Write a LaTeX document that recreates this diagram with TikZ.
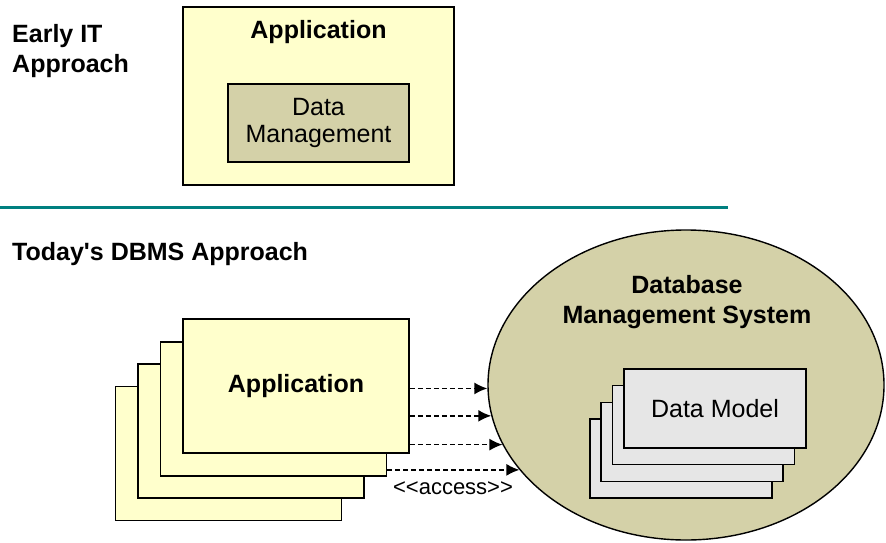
\documentclass[tikz,border=0pt]{standalone}
\usepackage{fontspec}
\setmainfont{Liberation Sans}
\newfontfamily\arialfont{Liberation Sans}
\usetikzlibrary{shapes.geometric,arrows.meta}
\definecolor{appyellow}{RGB}{255,255,204}
\definecolor{dmolive}{RGB}{212,209,168}
\definecolor{modelgray}{RGB}{230,230,230}
\definecolor{divteal}{RGB}{0,128,128}

\begin{document}
\begin{tikzpicture}[x=1pt,y=-1pt,
  big/.style={font=\arialfont\fontsize{25}{30}\selectfont},
  appbox/.style={draw,line width=1.8pt,fill=appyellow,minimum width=226pt,minimum height=134pt},
  modelbox/.style={draw,line width=1.8pt,fill=modelgray,minimum width=182pt,minimum height=79pt,big},
  access/.style={line width=1.6pt,dash pattern=on 5pt off 3pt,-{Latex[length=13pt,width=12pt]}}]
\useasboundingbox (0,0) rectangle (886,543);

  % Early IT
  \node[big,anchor=north west,align=left,inner sep=0pt] (early) at (12,24) {\bfseries Early IT\\\bfseries Approach};
  \node[draw,line width=1.8pt,fill=appyellow,minimum width=271pt,minimum height=178pt] (oldapp) at (318.5,96) {};
  \node[big,anchor=base,inner sep=0pt] (oldapptext) at (318.5,39) {\bfseries Application};
  \node[draw,line width=1.8pt,fill=dmolive,minimum width=181pt,minimum height=78pt,align=center,font=\arialfont\fontsize{25}{27}\selectfont] (datamgmt) at (318.5,123) {Data\\Management};

% divider
  \coordinate (divl) at (0,207);
  \coordinate (divr) at (728,207);
  \draw[divteal,line width=3pt] (divl)--(divr);

  % Today
  \node[big,anchor=base west,inner sep=0pt] (today) at (12,260) {\bfseries Today's DBMS Approach};

  \node[appbox] (app4) at (228.5,453.5) {};
  \node[appbox] (app3) at (251,431) {};
  \node[appbox] (app2) at (273.5,409) {};
  \node[appbox,big] (app1) at (296,386) {\bfseries Application};

  \node[draw,ellipse,line width=1.4pt,fill=dmolive,minimum width=396pt,minimum height=310pt] (dbms) at (686,385) {};
  \node[big,align=center,inner sep=0pt] (dbmstext) at (687,302) {\bfseries Database\\\bfseries Management System};

  \node[modelbox] (dm4) at (681,458.5) {};
  \node[modelbox] (dm3) at (692,442) {};
  \node[modelbox] (dm2) at (703.5,425) {};
  \node[modelbox] (dm1) at (715,408.5) {Data Model};

\draw[access] (app1.east |- dbms.181)--(dbms.181);
\draw[access] (app1.east |- dbms.189)--(dbms.189);
\draw[access] (app1.east |- dbms.198)--(dbms.198);
\draw[access] (app2.east |- dbms.207)--(dbms.207);

\node[font=\arialfont\fontsize{22}{26}\selectfont,inner sep=0pt] (accesstext) at (453,488) {<\kern0pt<access>\kern0pt>};

\end{tikzpicture}
\end{document}
